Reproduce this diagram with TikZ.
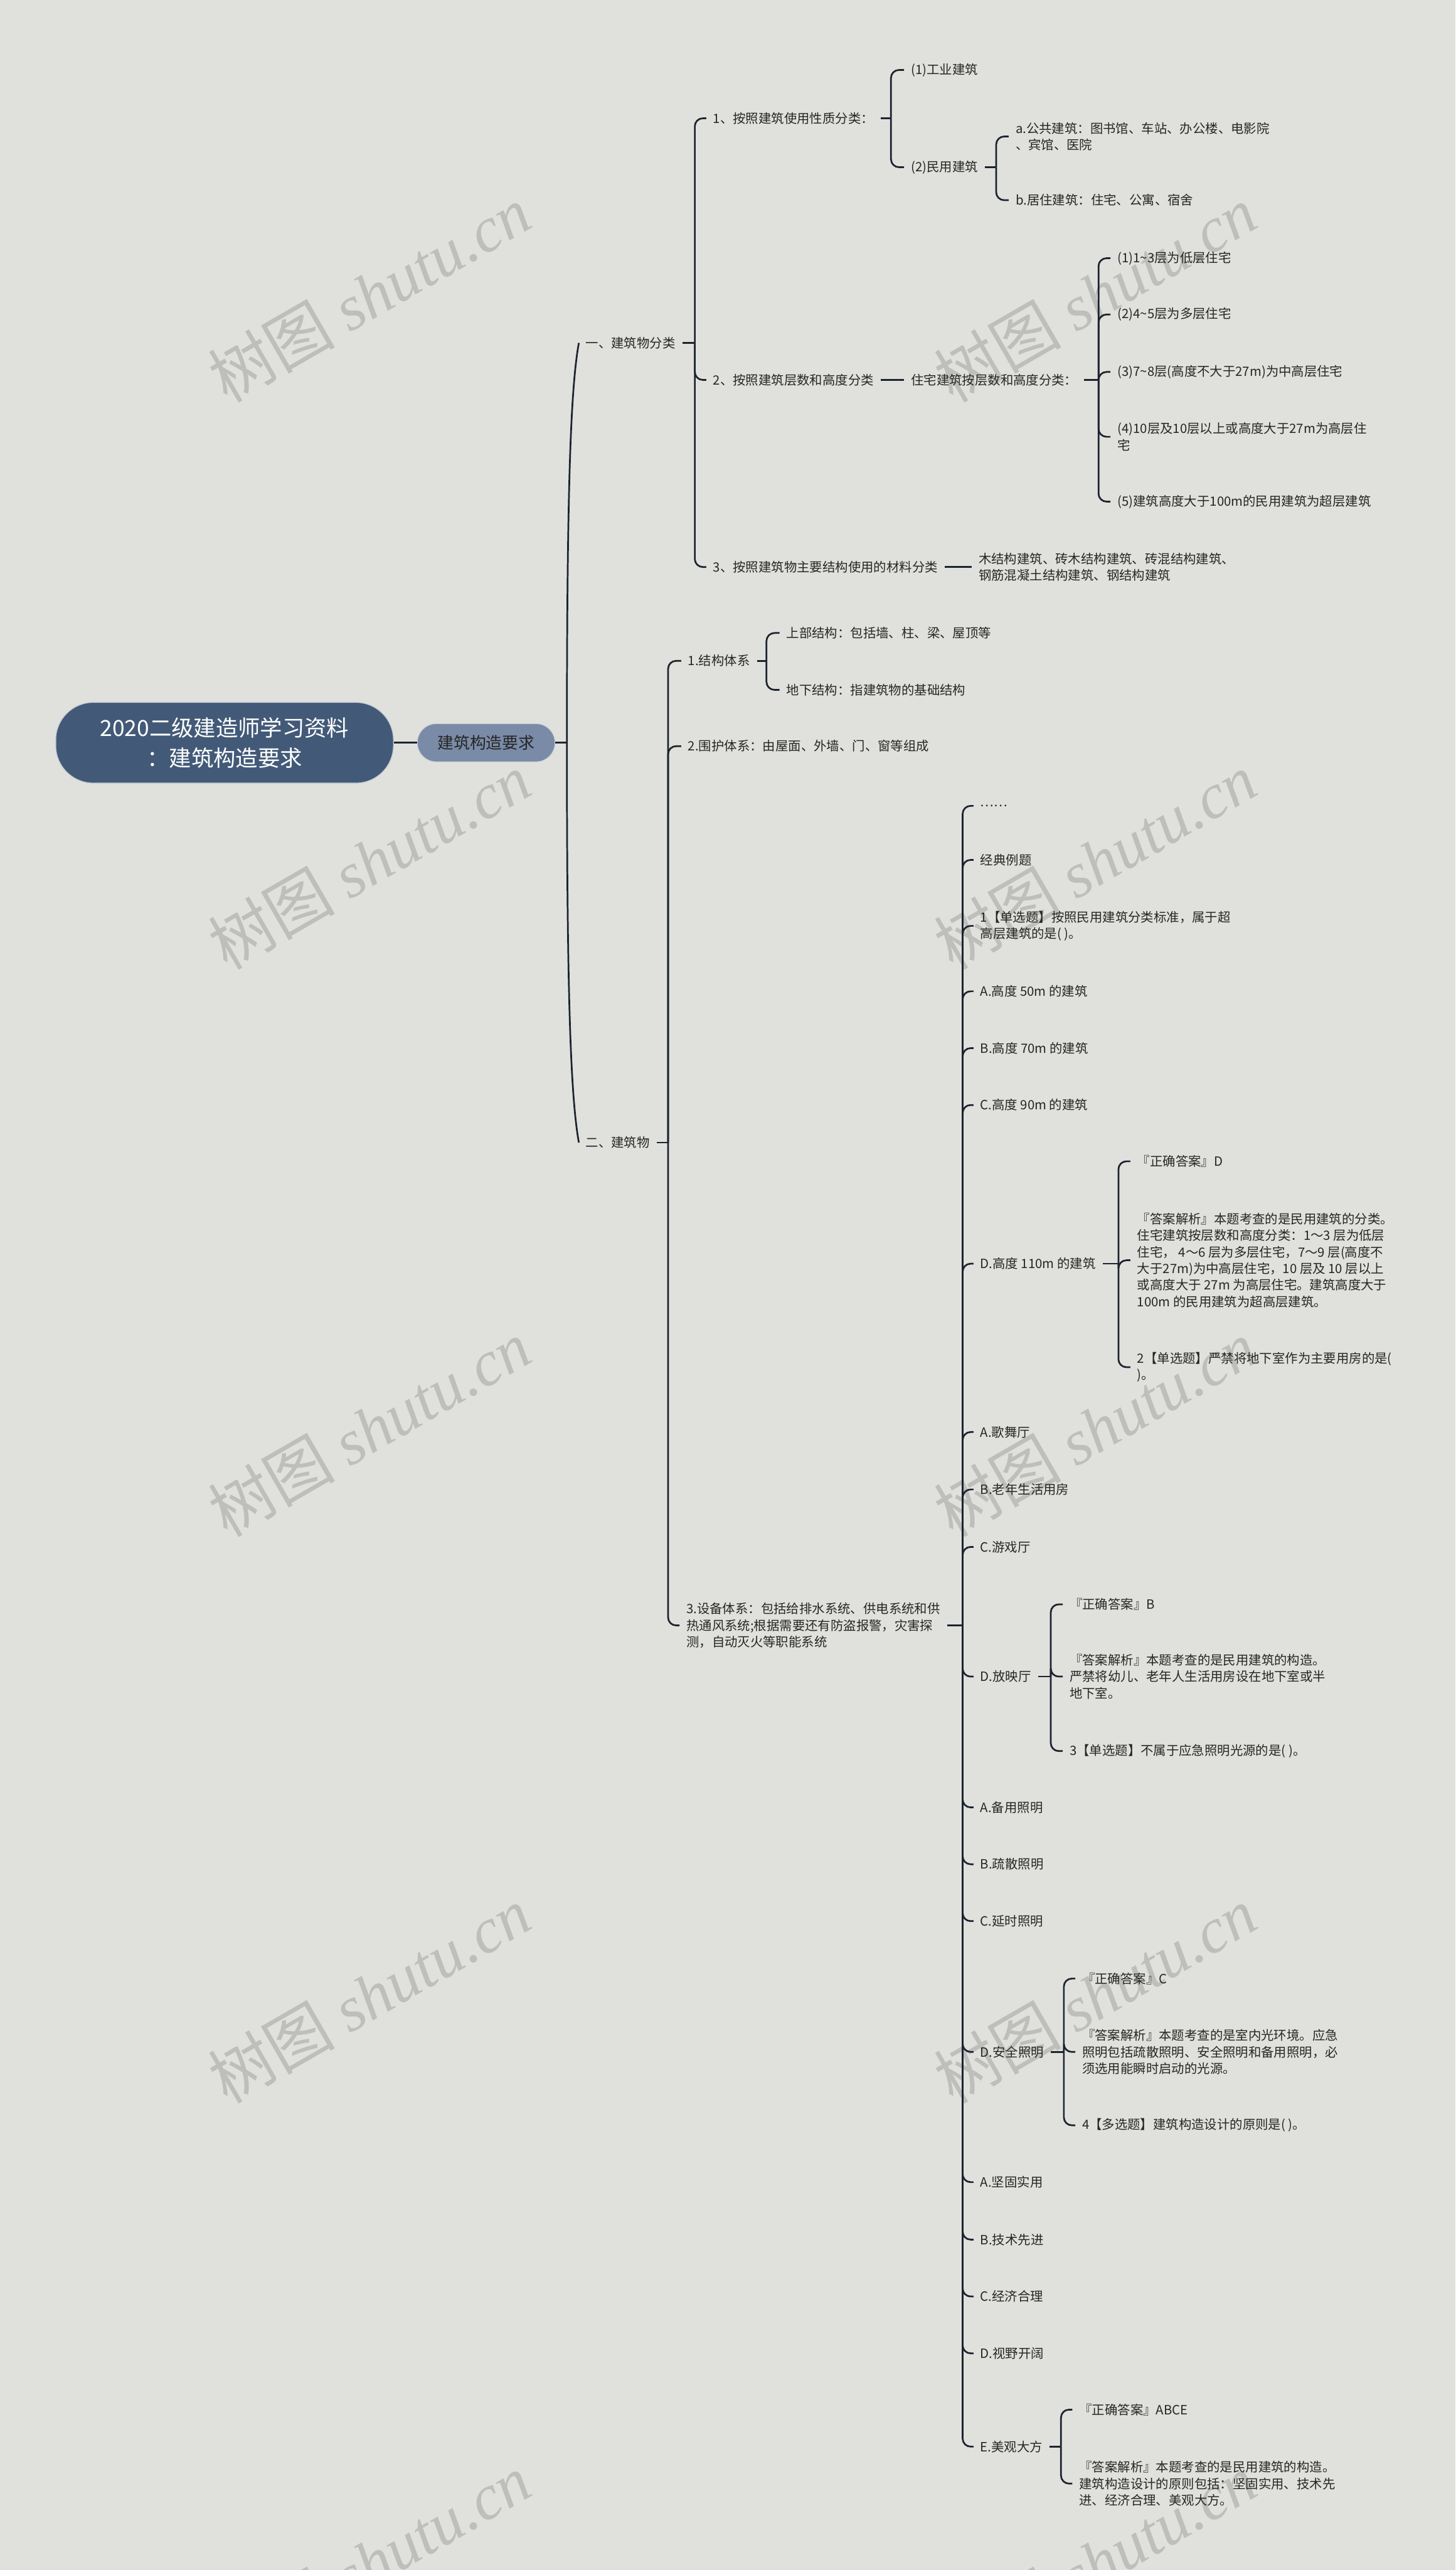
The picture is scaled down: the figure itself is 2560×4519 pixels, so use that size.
\documentclass[tikz,border=0pt]{standalone}
\usepackage{fontspec}
\setmainfont{Noto Sans CJK SC}
\newfontfamily\wmserif{Liberation Serif}
\definecolor{bg}{HTML}{E0E1DC}
\definecolor{ln}{HTML}{1C2330}
\definecolor{rootc}{HTML}{425A78}
\definecolor{subc}{HTML}{7A8BA7}
\definecolor{txt}{HTML}{262626}
\definecolor{wm}{HTML}{BEBFBA}
\begin{document}
\begin{tikzpicture}[x=1pt,y=-1pt,
  tn/.style={anchor=west, inner xsep=12pt, inner ysep=3pt, text=txt, font=\fontsize{22.5}{29}\selectfont, align=left},
  br/.style={draw=ln, line width=3pt, rounded corners=14pt},
  stub/.style={draw=ln, line width=3pt},
  wmk/.style={text=wm, rotate=30, inner sep=0pt, font=\fontsize{112}{112}\selectfont},
  rootbox/.style={fill=rootc, draw=white!70!rootc, line width=1.5pt, rounded corners=66pt, minimum width=594pt, minimum height=142pt, text=white, font=\fontsize{39}{53}\selectfont, align=center, inner sep=0pt},
  subbox/.style={fill=subc, draw=white!60!subc, line width=1.2pt, rounded corners=33pt, minimum width=242pt, minimum height=67pt, text=txt, font=\fontsize{28.5}{34}\selectfont, inner sep=0pt}]
\clip (0,0) rectangle (2560,4519);
\fill[bg] (0,0) rectangle (2560,4519);
% watermarks
\foreach \yy in {517,1514,2511,3508,4505}{
  \node[wmk] (wl\yy) at (649,\yy) {树图 {\wmserif\itshape shutu.cn}};
  \node[wmk] (wr\yy) at (1926,\yy) {树图 {\wmserif\itshape shutu.cn}};
}
% root and main topic
\node[rootbox] (root) at (395,1306) {2020二级建造师学习资料\\：建筑构造要求};
\node[subbox] (n2) at (855,1306) {建筑构造要求};
\draw[stub] (root.east) -- (n2.west);
\coordinate (t0) at (997,1306);
\draw[stub] (n2.east) -- (t0);
% level 1
\node[tn] (A) at (1018,603) {一、建筑物分类};
\node[tn] (B) at (1018,2009) {二、建筑物};
\draw[stub] (t0) .. controls (997,850) and (1004,680) .. (A.west);
\draw[stub] (t0) .. controls (997,1760) and (1004,1930) .. (B.west);
% subtree A
\coordinate (bA) at (1222,603);
\node[tn] (A1) at (1242,208) {1、按照建筑使用性质分类：};
\node[tn] (A2) at (1242,668) {2、按照建筑层数和高度分类};
\node[tn] (A3) at (1242,997) {3、按照建筑物主要结构使用的材料分类};
\draw[stub] (A.east) -- (A.east -| bA);
\foreach \c in {A1,A2,A3}{\draw[br] (A.east -| bA) |- (\c.west);}
\coordinate (bA1) at (1567,208);
\node[tn] (A1a) at (1590,123) {(1)工业建筑};
\node[tn] (A1b) at (1590,294) {(2)民用建筑};
\draw[stub] (A1.east) -- (A1.east -| bA1);
\foreach \c in {A1a,A1b}{\draw[br] (A1.east -| bA1) |- (\c.west);}
\coordinate (bA1b) at (1752,294);
\node[tn] (A1b1) at (1774,240) {a.公共建筑：图书馆、车站、办公楼、电影院\\、宾馆、医院};
\node[tn] (A1b2) at (1774,352) {b.居住建筑：住宅、公寓、宿舍};
\draw[stub] (A1b.east) -- (A1b.east -| bA1b);
\foreach \c in {A1b1,A1b2}{\draw[br] (A1b.east -| bA1b) |- (\c.west);}
\node[tn] (A2c) at (1590,668) {住宅建筑按层数和高度分类：};
\draw[stub] (A2.east) -- (A2c.west);
\coordinate (bA2c) at (1932,668);
\node[tn] (A2c1) at (1953,454) {(1)1\textasciitilde3层为低层住宅};
\node[tn] (A2c2) at (1953,553) {(2)4\textasciitilde5层为多层住宅};
\node[tn] (A2c3) at (1953,654) {(3)7\textasciitilde8层(高度不大于27m)为中高层住宅};
\node[tn] (A2c4) at (1953,768) {(4)10层及10层以上或高度大于27m为高层住\\宅};
\node[tn] (A2c5) at (1953,882) {(5)建筑高度大于100m的民用建筑为超层建筑};
\draw[stub] (A2c.east) -- (A2c.east -| bA2c);
\foreach \c in {A2c1,A2c2,A2c3,A2c4,A2c5}{\draw[br] (A2c.east -| bA2c) |- (\c.west);}
\node[tn] (A3c) at (1709,997) {木结构建筑、砖木结构建筑、砖混结构建筑、\\钢筋混凝土结构建筑、钢结构建筑};
\draw[stub] (A3.east) -- (A3c.west);
% subtree B
\coordinate (bB) at (1175,2009);
\node[tn] (B1) at (1198,1162) {1.结构体系};
\node[tn] (B2) at (1198,1312) {2.围护体系：由屋面、外墙、门、窗等组成};
\node[tn] (B3) at (1195,2858) {3.设备体系：包括给排水系统、供电系统和供\\热通风系统;根据需要还有防盗报警，灾害探\\测，自动灭火等职能系统};
\draw[stub] (B.east) -- (B.east -| bB);
\foreach \c in {B1,B2,B3}{\draw[br] (B.east -| bB) |- (\c.west);}
\coordinate (bB1) at (1348,1162);
\node[tn] (B1a) at (1371,1113) {上部结构：包括墙、柱、梁、屋顶等};
\node[tn] (B1b) at (1371,1213) {地下结构：指建筑物的基础结构};
\draw[stub] (B1.east) -- (B1.east -| bB1);
\foreach \c in {B1a,B1b}{\draw[br] (B1.east -| bB1) |- (\c.west);}
% children of B3
\coordinate (bB3) at (1693,2858);
\node[tn] (c1) at (1712,1417) {……};
\node[tn] (c2) at (1712,1512) {经典例题};
\node[tn] (c3) at (1712,1628) {1【单选题】按照民用建筑分类标准，属于超\\高层建筑的是( )。};
\node[tn] (c4) at (1712,1743) {A.高度 50m 的建筑};
\node[tn] (c5) at (1712,1843) {B.高度 70m 的建筑};
\node[tn] (c6) at (1712,1943) {C.高度 90m 的建筑};
\node[tn] (c7) at (1712,2222) {D.高度 110m 的建筑};
\node[tn] (c8) at (1712,2518) {A.歌舞厅};
\node[tn] (c9) at (1712,2619) {B.老年生活用房};
\node[tn] (c10) at (1712,2720) {C.游戏厅};
\node[tn] (c11) at (1712,2948) {D.放映厅};
\node[tn] (c12) at (1712,3178) {A.备用照明};
\node[tn] (c13) at (1712,3278) {B.疏散照明};
\node[tn] (c14) at (1712,3378) {C.延时照明};
\node[tn] (c15) at (1712,3608) {D.安全照明};
\node[tn] (c16) at (1712,3837) {A.坚固实用};
\node[tn] (c17) at (1712,3938) {B.技术先进};
\node[tn] (c18) at (1712,4038) {C.经济合理};
\node[tn] (c19) at (1712,4138) {D.视野开阔};
\node[tn] (c20) at (1712,4302) {E.美观大方};
\draw[stub] (B3.east) -- (B3.east -| bB3);
\foreach \c in {c1,c2,c3,c4,c5,c6,c7,c8,c9,c10,c11,c12,c13,c14,c15,c16,c17,c18,c19,c20}{\draw[br] (B3.east -| bB3) |- (\c.west);}
% D 110m
\coordinate (b7) at (1967,2222);
\node[tn] (c7a) at (1988,2042) {『正确答案』D};
\node[tn] (c7b) at (1988,2216) {『答案解析』本题考查的是民用建筑的分类。\\住宅建筑按层数和高度分类：1～3 层为低层\\住宅， 4～6 层为多层住宅，7～9 层(高度不\\大于27m)为中高层住宅，10 层及 10 层以上\\或高度大于 27m 为高层住宅。建筑高度大于\\100m 的民用建筑为超高层建筑。};
\node[tn] (c7c) at (1988,2404) {2【单选题】严禁将地下室作为主要用房的是(\\)。};
\draw[stub] (c7.east) -- (c7.east -| b7);
\foreach \c in {c7a,c7b,c7c}{\draw[br] (c7.east -| b7) |- (\c.west);}
% D 放映厅
\coordinate (b11) at (1848,2948);
\node[tn] (c11a) at (1869,2821) {『正确答案』B};
\node[tn] (c11b) at (1869,2948) {『答案解析』本题考查的是民用建筑的构造。\\严禁将幼儿、老年人生活用房设在地下室或半\\地下室。};
\node[tn] (c11c) at (1869,3079) {3【单选题】不属于应急照明光源的是( )。};
\draw[stub] (c11.east) -- (c11.east -| b11);
\foreach \c in {c11a,c11b,c11c}{\draw[br] (c11.east -| b11) |- (\c.west);}
% D 安全照明
\coordinate (b15) at (1871,3608);
\node[tn] (c15a) at (1891,3479) {『正确答案』C};
\node[tn] (c15b) at (1891,3608) {『答案解析』本题考查的是室内光环境。应急\\照明包括疏散照明、安全照明和备用照明，必\\须选用能瞬时启动的光源。};
\node[tn] (c15c) at (1891,3737) {4【多选题】建筑构造设计的原则是( )。};
\draw[stub] (c15.east) -- (c15.east -| b15);
\foreach \c in {c15a,c15b,c15c}{\draw[br] (c15.east -| b15) |- (\c.west);}
% E 美观大方
\coordinate (b20) at (1866,4302);
\node[tn] (c20a) at (1886,4237) {『正确答案』ABCE};
\node[tn] (c20b) at (1886,4367) {『答案解析』本题考查的是民用建筑的构造。\\建筑构造设计的原则包括：坚固实用、技术先\\进、经济合理、美观大方。};
\draw[stub] (c20.east) -- (c20.east -| b20);
\foreach \c in {c20a,c20b}{\draw[br] (c20.east -| b20) |- (\c.west);}
\end{tikzpicture}
\end{document}
